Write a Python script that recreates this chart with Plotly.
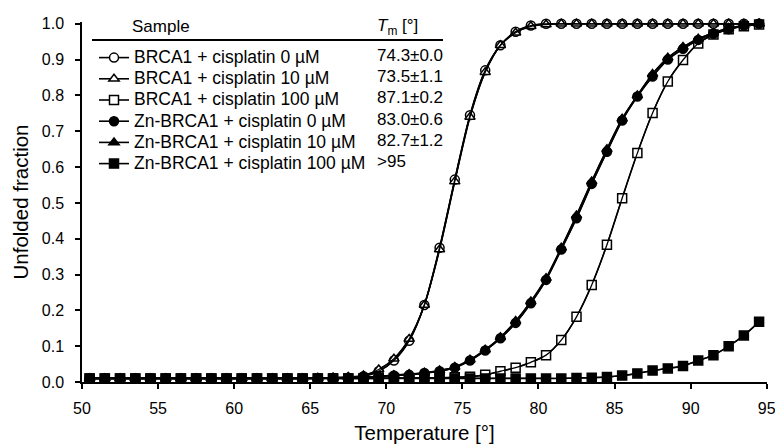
import plotly.graph_objects as go

temperature = [50.5, 51.5, 52.5, 53.5, 54.5, 55.5, 56.5, 57.5, 58.5, 59.5,
               60.5, 61.5, 62.5, 63.5, 64.5, 65.5, 66.5, 67.5, 68.5, 69.5,
               70.5, 71.5, 72.5, 73.5, 74.5, 75.5, 76.5, 77.5, 78.5, 79.5,
               80.5, 81.5, 82.5, 83.5, 84.5, 85.5, 86.5, 87.5, 88.5, 89.5,
               90.5, 91.5, 92.5, 93.5, 94.5]

brca1_cis0 = [0.010, 0.010, 0.010, 0.010, 0.010, 0.010, 0.010, 0.010, 0.010, 0.010,
              0.010, 0.010, 0.010, 0.010, 0.010, 0.011, 0.011, 0.012, 0.016, 0.030,
              0.060, 0.115, 0.215, 0.375, 0.565, 0.745, 0.870, 0.940, 0.978, 0.995,
              1.000, 1.000, 1.000, 1.000, 1.000, 1.000, 1.000, 1.000, 1.000, 1.000,
              1.000, 1.000, 1.000, 1.000, 1.000]
brca1_cis10 = [0.010, 0.010, 0.010, 0.010, 0.010, 0.010, 0.010, 0.010, 0.010, 0.010,
               0.010, 0.010, 0.010, 0.010, 0.010, 0.011, 0.012, 0.014, 0.018, 0.035,
               0.065, 0.120, 0.215, 0.370, 0.560, 0.740, 0.865, 0.940, 0.975, 0.993,
               0.998, 1.000, 1.000, 1.000, 1.000, 1.000, 1.000, 1.000, 1.000, 1.000,
               1.000, 1.000, 1.000, 1.000, 1.000]
brca1_cis100 = [0.010, 0.010, 0.010, 0.010, 0.010, 0.010, 0.010, 0.010, 0.010, 0.010,
                0.010, 0.010, 0.010, 0.010, 0.010, 0.010, 0.010, 0.010, 0.010, 0.010,
                0.011, 0.011, 0.012, 0.012, 0.013, 0.015, 0.020, 0.030, 0.040, 0.055,
                0.075, 0.117, 0.182, 0.271, 0.383, 0.513, 0.639, 0.751, 0.839, 0.899,
                0.945, 0.970, 0.985, 0.993, 0.998]
zn_cis0 = [0.010, 0.010, 0.010, 0.010, 0.010, 0.010, 0.010, 0.010, 0.010, 0.010,
           0.010, 0.010, 0.010, 0.010, 0.010, 0.010, 0.011, 0.011, 0.012, 0.015,
           0.018, 0.020, 0.025, 0.030, 0.040, 0.060, 0.088, 0.122, 0.165, 0.220,
           0.285, 0.370, 0.457, 0.553, 0.643, 0.730, 0.797, 0.853, 0.900, 0.930,
           0.955, 0.972, 0.985, 0.995, 1.000]
zn_cis10 = [0.010, 0.010, 0.010, 0.010, 0.010, 0.010, 0.010, 0.010, 0.010, 0.010,
            0.010, 0.010, 0.010, 0.010, 0.010, 0.010, 0.011, 0.012, 0.013, 0.016,
            0.019, 0.022, 0.026, 0.032, 0.042, 0.062, 0.090, 0.125, 0.170, 0.225,
            0.290, 0.375, 0.465, 0.560, 0.650, 0.735, 0.800, 0.860, 0.905, 0.935,
            0.958, 0.975, 0.988, 0.995, 1.000]
zn_cis100 = [0.010, 0.010, 0.010, 0.010, 0.010, 0.010, 0.010, 0.010, 0.010, 0.010,
             0.010, 0.010, 0.010, 0.010, 0.010, 0.010, 0.010, 0.010, 0.010, 0.010,
             0.010, 0.010, 0.010, 0.010, 0.010, 0.010, 0.010, 0.010, 0.010, 0.010,
             0.010, 0.010, 0.011, 0.012, 0.014, 0.018, 0.024, 0.032, 0.038, 0.045,
             0.060, 0.075, 0.100, 0.130, 0.168]

sample_names = ["BRCA1 + cisplatin 0 µM", "BRCA1 + cisplatin 10 µM",
                "BRCA1 + cisplatin 100 µM", "Zn-BRCA1 + cisplatin 0 µM",
                "Zn-BRCA1 + cisplatin 10 µM", "Zn-BRCA1 + cisplatin 100 µM"]
tm_labels = ["74.3±0.0", "73.5±1.1", "87.1±0.2", "83.0±0.6", "82.7±1.2", ">95"]
series_values = [brca1_cis0, brca1_cis10, brca1_cis100, zn_cis0, zn_cis10, zn_cis100]

x_ticks = [50, 55, 60, 65, 70, 75, 80, 85, 90, 95]
y_ticks = [0.0, 0.1, 0.2, 0.3, 0.4, 0.5, 0.6, 0.7, 0.8, 0.9, 1.0]

symbols = ["circle", "triangle-up", "square", "circle", "triangle-up", "square"]
fills = ["white", "white", "white", "black", "black", "black"]

FONT = "Liberation Sans, Arial, sans-serif"

fig = go.Figure()
for name, vals, sym, fc in zip(sample_names, series_values, symbols, fills):
    fig.add_trace(go.Scatter(
        x=temperature, y=vals, name=f'<span style="font-size:17.5px">{name}</span>',
        mode="lines+markers",
        line=dict(color="black", width=1.6, shape="spline", smoothing=0.8),
        marker=dict(symbol=sym, size=9, color=fc, line=dict(color="black", width=1.5)),
        cliponaxis=False,
    ))
# fitted lines drawn on top of the markers
for vals in series_values:
    fig.add_trace(go.Scatter(
        x=temperature, y=vals, mode="lines", showlegend=False, hoverinfo="skip",
        line=dict(color="black", width=1.3, shape="spline", smoothing=0.8),
        cliponaxis=False,
    ))

L, R, T, B = 82, 8, 22, 63
W, H = 775 - L - R, 445 - T - B
def px(xp):
    return (xp - L) / W
def py(yp):
    return (445 - B - yp) / H

row_y = [55, 76.4, 97.8, 119.2, 140.6, 162]
annotations = []
for lbl, ry in zip(tm_labels, row_y):
    annotations.append(dict(x=px(375), y=py(ry), xref="paper", yref="paper",
                            text=lbl, showarrow=False, xanchor="left", yanchor="middle",
                            font=dict(size=17, color="black", family=FONT)))
annotations.append(dict(x=px(130), y=py(27), xref="paper", yref="paper", text="Sample",
                        showarrow=False, xanchor="left", yanchor="middle",
                        font=dict(size=17, color="black", family=FONT)))
annotations.append(dict(x=px(375), y=py(27), xref="paper", yref="paper",
                        text="<i>T</i><sub>m</sub> [°]",
                        showarrow=False, xanchor="left", yanchor="middle",
                        font=dict(size=17, color="black", family=FONT)))

fig.update_layout(
    width=775, height=445,
    margin=dict(l=L, r=R, t=T, b=B, autoexpand=False),
    paper_bgcolor="white", plot_bgcolor="white",
    font=dict(family=FONT, color="black", size=16),
    showlegend=True,
    legend=dict(x=px(94), y=py(42), xanchor="left", yanchor="top",
                bgcolor="rgba(0,0,0,0)", borderwidth=0,
                font=dict(size=14, family=FONT, color="black"),
                tracegroupgap=0),
    annotations=annotations,
    shapes=[dict(type="line", xref="paper", yref="paper",
                 x0=px(92), x1=px(443), y0=py(40), y1=py(40),
                 line=dict(color="black", width=2))],
    xaxis=dict(range=[50, 95.02], tickvals=x_ticks, ticktext=[str(v) for v in x_ticks],
               showgrid=False, zeroline=False, showline=True, linecolor="black",
               linewidth=1.5, ticks="outside", ticklen=5, tickwidth=1.5,
               tickcolor="black", tickfont=dict(size=16), ticklabelstandoff=6,
               ticklabeloverflow="allow",
               title=dict(text="Temperature [°]", font=dict(size=20.5), standoff=10),
               automargin=False),
    yaxis=dict(range=[0, 1.005], tickvals=y_ticks, ticktext=[f"{v:.1f}" for v in y_ticks],
               showgrid=False, zeroline=False, showline=True, linecolor="black",
               linewidth=1.5, ticks="outside", ticklen=5, tickwidth=1.5,
               tickcolor="black", tickfont=dict(size=16), ticklabelstandoff=8,
               ticklabeloverflow="allow",
               title=dict(text="Unfolded fraction", font=dict(size=20.5), standoff=8),
               automargin=False),
)

fig.write_html("out.html")
